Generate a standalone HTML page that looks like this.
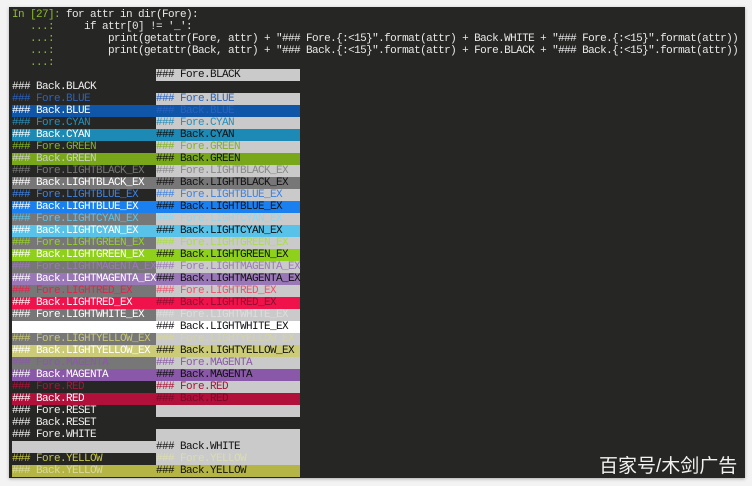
<!DOCTYPE html><html><head><meta charset="utf-8"><style>
body{margin:0;width:752px;height:486px;background:#f3f3f3;position:relative;overflow:hidden}
#p{position:absolute;left:9px;top:7px;width:736px;height:471px;background:#262624;box-shadow:0 1px 3px #aaa}
.t{position:absolute;font-family:"Liberation Mono",monospace;font-size:11px;letter-spacing:-0.6px;line-height:12px;height:12px;white-space:pre;color:#e8e8e8}
.c{left:12px}
.L{left:12px;width:144px}.R{left:156px;width:144px}
.g{color:#8cbf26}
#w{position:absolute;left:599px;top:451px;font-family:"Liberation Sans","Noto Sans CJK SC",sans-serif;font-size:19px;color:#f2f2f2}
</style></head><body><div id="p"></div>
<div class="t c" style="top:9px"><span class="g">In [27]:</span> for attr in dir(Fore):</div>
<div class="t c" style="top:21px"><span class="g">   ...:</span>     if attr[0] != '_':</div>
<div class="t c" style="top:33px"><span class="g">   ...:</span>         print(getattr(Fore, attr) + "### Fore.{:&lt;15}".format(attr) + Back.WHITE + "### Fore.{:&lt;15}".format(attr))</div>
<div class="t c" style="top:45px"><span class="g">   ...:</span>         print(getattr(Back, attr) + "### Back.{:&lt;15}".format(attr) + Fore.BLACK + "### Back.{:&lt;15}".format(attr))</div>
<div class="t c" style="top:57px"><span class="g">   ...:</span></div>
<div id="rows"></div>
<div id="w">百家号/木剑广告</div>
<script>
var G='#cacaca',D='transparent',K='#777';
var r=[
[D,'','',G,'#111','### Fore.BLACK'],
[D,'#eee','### Back.BLACK',D,'',''],
[D,'#2a63c0','### Fore.BLUE',G,'#2a63c0','### Fore.BLUE'],
['#0f55a8','#fff','### Back.BLUE','#0f55a8','#2a63c0','### Back.BLUE'],
[D,'#2590bb','### Fore.CYAN',G,'#2590bb','### Fore.CYAN'],
['#1c8ab4','#fff','### Back.CYAN','#1c8ab4','#111','### Back.CYAN'],
[D,'#82b51f','### Fore.GREEN',G,'#82b51f','### Fore.GREEN'],
['#78a81a','#ccc','### Back.GREEN','#78a81a','#111','### Back.GREEN'],
[D,'#777','### Fore.LIGHTBLACK_EX',G,'#888','### Fore.LIGHTBLACK_EX'],
[K,'#fff','### Back.LIGHTBLACK_EX',K,'#111','### Back.LIGHTBLACK_EX'],
[D,'#3b82e8','### Fore.LIGHTBLUE_EX',G,'#3b82e8','### Fore.LIGHTBLUE_EX'],
['#1a80f0','#fff','### Back.LIGHTBLUE_EX','#1a80f0','#111','### Back.LIGHTBLUE_EX'],
[K,'#5bc4e8','### Fore.LIGHTCYAN_EX',G,'#8ed8f0','### Fore.LIGHTCYAN_EX'],
['#58c2e8','#fff','### Back.LIGHTCYAN_EX','#58c2e8','#111','### Back.LIGHTCYAN_EX'],
[K,'#96d41e','### Fore.LIGHTGREEN_EX',G,'#a8e040','### Fore.LIGHTGREEN_EX'],
['#8fd11a','#fff','### Back.LIGHTGREEN_EX','#8fd11a','#111','### Back.LIGHTGREEN_EX'],
[K,'#9a7ab8','### Fore.LIGHTMAGENTA_EX',G,'#9a7ab8','### Fore.LIGHTMAGENTA_EX'],
['#9a78b8','#fff','### Back.LIGHTMAGENTA_EX','#9a78b8','#111','### Back.LIGHTMAGENTA_EX'],
[K,'#f01c4c','### Fore.LIGHTRED_EX',G,'#f0506a','### Fore.LIGHTRED_EX'],
['#f0124a','#fff','### Back.LIGHTRED_EX','#f0124a','#8a1030','### Back.LIGHTRED_EX'],
[K,'#fff','### Fore.LIGHTWHITE_EX',G,'#ddd','### Fore.LIGHTWHITE_EX'],
['#fff','#fff','','#fff','#111','### Back.LIGHTWHITE_EX'],
[K,'#c8c870','### Fore.LIGHTYELLOW_EX',G,'#d4d4a0','### Fore.LIGHTYELLOW_EX'],
['#cccc78','#fff','### Back.LIGHTYELLOW_EX','#cccc78','#111','### Back.LIGHTYELLOW_EX'],
[K,'#8a5aa8','### Fore.MAGENTA',G,'#8a5aa8','### Fore.MAGENTA'],
['#8a58a8','#fff','### Back.MAGENTA','#8a58a8','#111','### Back.MAGENTA'],
[D,'#b0123a','### Fore.RED',G,'#b0123a','### Fore.RED'],
['#b0103a','#fff','### Back.RED','#b0103a','#7a0a28','### Back.RED'],
[D,'#eee','### Fore.RESET',G,'',''],
[D,'#eee','### Back.RESET',D,'',''],
[D,'#eee','### Fore.WHITE',G,'',''],
[G,'','',G,'#111','### Back.WHITE'],
[D,'#c8c840','### Fore.YELLOW',G,'#dcdcb0','### Fore.YELLOW'],
['#b5b545','#d8d8a0','### Back.YELLOW','#b5b545','#111','### Back.YELLOW']];
var h='';r.forEach(function(x,i){var y=69+i*12;
h+='<div class="t L" style="top:'+y+'px;background:'+x[0]+';color:'+x[1]+'">'+x[2]+'</div>';
h+='<div class="t R" style="top:'+y+'px;background:'+x[3]+';color:'+x[4]+'">'+x[5]+'</div>';});
document.getElementById('rows').innerHTML=h;
</script></body></html>
